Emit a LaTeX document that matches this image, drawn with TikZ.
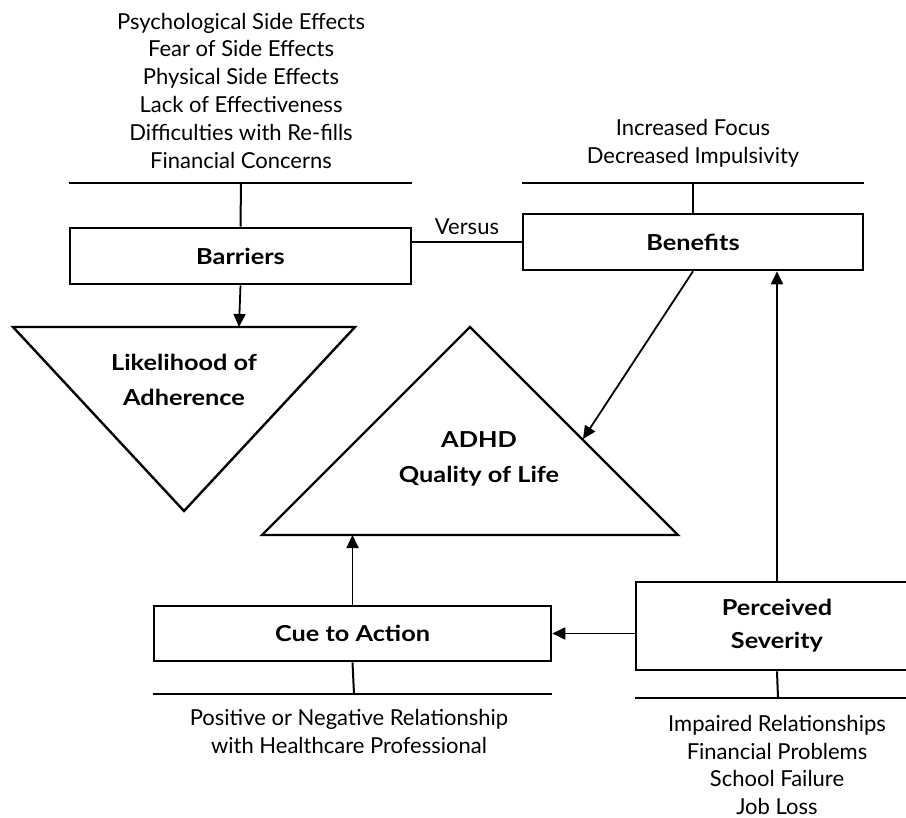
\documentclass[tikz,border=0pt]{standalone}
\usepackage{fontspec}
\setmainfont{Lato}[BoldFeatures={FakeStretch=1.15}]
\usetikzlibrary{arrows.meta}

\begin{document}
\begin{tikzpicture}[x=1pt,y=-1pt,
    box/.style={draw, line width=2.6pt, minimum width=340pt, minimum height=56pt, inner sep=0pt, font=\fontsize{22}{33}\selectfont\bfseries, align=center},
    tri/.style={draw, line width=2.4pt, line join=miter},
    bar/.style={line width=2.6pt},
    link/.style={line width=2pt},
    arr/.style={line width=1.8pt, -{Triangle[length=13pt,width=12pt]}},
    list/.style={align=center, inner sep=0pt, font=\fontsize{22}{27.8}\selectfont},
    title/.style={align=center, inner sep=0pt, font=\fontsize{22}{34.5}\selectfont\bfseries}]
    \useasboundingbox (0,0) rectangle (906,818);

    % Barriers
    \node[list] (barrierlist) at (241,90.5) {Psychological Side Effects\\Fear of Side Effects\\Physical Side Effects\\Lack of Effectiveness\\Difficulties with Re-fills\\Financial Concerns};
    \node[box, minimum width=341pt] (barriers) at (240.5,256) {Barriers};
    \coordinate (barrierbar) at (241,183);
    \draw[bar] (barriers.west |- barrierbar) -- (barriers.east |- barrierbar);
    \draw[link] (barrierbar) -- (barriers.north);

    % Benefits
    \node[list] (benefitlist) at (693,143) {Increased Focus\\Decreased Impulsivity};
    \node[box] (benefits) at (693,242) {Benefits};
    \coordinate (benefitbar) at (693,183);
    \draw[bar] (benefits.west |- benefitbar) -- (benefits.east |- benefitbar);
    \draw[link] (benefitbar) -- (benefits.north);

    % Versus
    \draw[link] (benefits.west) -- node[above=3pt, font=\fontsize{22}{26}\selectfont] (versus) {Versus} (benefits.west -| barriers.east);

    % Likelihood of adherence
    \coordinate (liktop) at (239,327);
    \draw[tri] (13,327) -- (355,327) -- (184,511) -- cycle;
    \node[title] (likelihood) at (184,380) {Likelihood of\\Adherence};

    % Quality of life
    \coordinate (qolbase) at (354,535);
    \coordinate (qolhit) at (583,439);
    \draw[tri] (470,327) -- (678,535) -- (262,535) -- cycle;
    \node[title] (adhd) at (479,459) {ADHD\\Quality of Life};

    % Cue to action
    \node[box, minimum width=397pt, minimum height=55pt] (cue) at (352.5,633.5) {Cue to Action};
    \coordinate (cuebar) at (354,694);
    \draw[bar] (cue.west |- cuebar) -- (cue.east |- cuebar);
    \draw[link] (cue.south) -- (cuebar);
    \node[list] (cuelist) at (349,731.5) {Positive or Negative Relationship\\with Healthcare Professional};

    % Perceived severity
    \node[box, minimum width=282pt, minimum height=88pt] (severity) at (777,626) {Perceived\\Severity};
    \coordinate (severitybar) at (778,698);
    \draw[bar] (severity.west |- severitybar) -- (severity.east |- severitybar);
    \draw[link] (severity.south) -- (severitybar);
    \node[list] (severitylist) at (777,765) {Impaired Relationships\\Financial Problems\\School Failure\\Job Loss};

    % Arrows
    \draw[arr] (barriers.south) -- (liktop);
    \draw[arr] (benefits.south) -- (qolhit);
    \draw[arr] (severity.north) -- (severity.north |- benefits.south);
    \draw[arr] (severity.west |- cue.east) -- (cue.east);
    \draw[arr] (cue.north) -- (cue.north |- qolbase);
\end{tikzpicture}
\end{document}
